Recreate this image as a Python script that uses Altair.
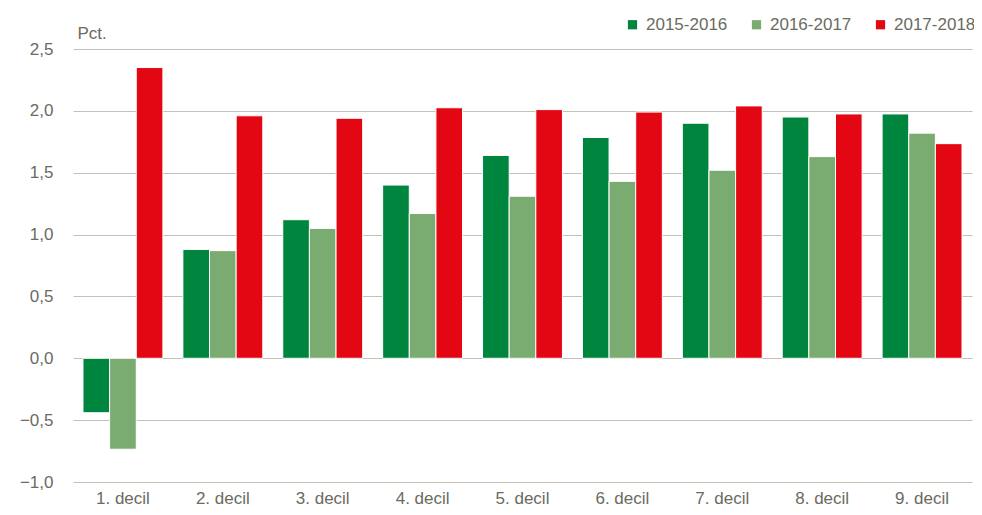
import altair as alt
import pandas as pd

categories = ["1. decil", "2. decil", "3. decil", "4. decil", "5. decil",
              "6. decil", "7. decil", "8. decil", "9. decil"]
series = ["2015-2016", "2016-2017", "2017-2018"]
v_2015_2016 = [-0.44, 0.88, 1.12, 1.40, 1.64, 1.785, 1.90, 1.95, 1.975]
v_2016_2017 = [-0.735, 0.87, 1.05, 1.17, 1.31, 1.43, 1.52, 1.63, 1.82]
v_2017_2018 = [2.35, 1.96, 1.94, 2.025, 2.01, 1.99, 2.04, 1.975, 1.735]
colors = ["#00853E", "#7AAB70", "#E30613"]

rows = []
for s, vals in zip(series, [v_2015_2016, v_2016_2017, v_2017_2018]):
    for c, v in zip(categories, vals):
        rows.append({"decil": c, "serie": s, "value": v})
df = pd.DataFrame(rows)

text_color = "#6B6B60"
font = "Liberation Sans"

chart = alt.Chart(df).mark_bar(stroke="white", strokeWidth=1).encode(
    x=alt.X("decil:N", sort=categories,
            scale=alt.Scale(paddingInner=0.2, paddingOuter=0.1),
            axis=alt.Axis(title=None, labelAngle=0, domain=False, ticks=False,
                          labelPadding=8, labelFontSize=17, labelColor=text_color,
                          labelFont=font, grid=False)),
    xOffset=alt.XOffset("serie:N", sort=series),
    y=alt.Y("value:Q",
            scale=alt.Scale(domain=[-1.0, 2.5], nice=False, zero=False),
            axis=alt.Axis(values=[-1.0, -0.5, 0.0, 0.5, 1.0, 1.5, 2.0, 2.5],
                          labelExpr="replace(format(datum.value, '.1f'), '.', ',')",
                          domain=False, ticks=False, labelPadding=20,
                          labelFontSize=17, labelColor=text_color, labelFont=font,
                          gridColor="#C2C1B4", gridWidth=1.2,
                          title="Pct.", titleAngle=0, titleAlign="left",
                          titleBaseline="alphabetic", titleX=4, titleY=-11,
                          titleFontSize=17, titleFontWeight="normal",
                          titleColor=text_color, titleFont=font)),
    color=alt.Color("serie:N", sort=series,
                    scale=alt.Scale(domain=series, range=colors),
                    legend=alt.Legend(title=None, orient="none", direction="horizontal",
                                      legendX=551, legendY=-33, symbolType="square",
                                      symbolSize=85, symbolStrokeWidth=0,
                                      labelFontSize=17, labelColor=text_color,
                                      labelFont=font, labelOffset=5,
                                      columnPadding=20)),
).properties(
    width=899, height=433,
    autosize=alt.AutoSizeParams(type="none"),
    padding={"left": 65, "top": 41, "right": 2, "bottom": 25},
).configure_view(stroke=None).configure_axis(gridOpacity=1)

chart.save("out.html", embed_options={"renderer": "svg", "actions": False})
